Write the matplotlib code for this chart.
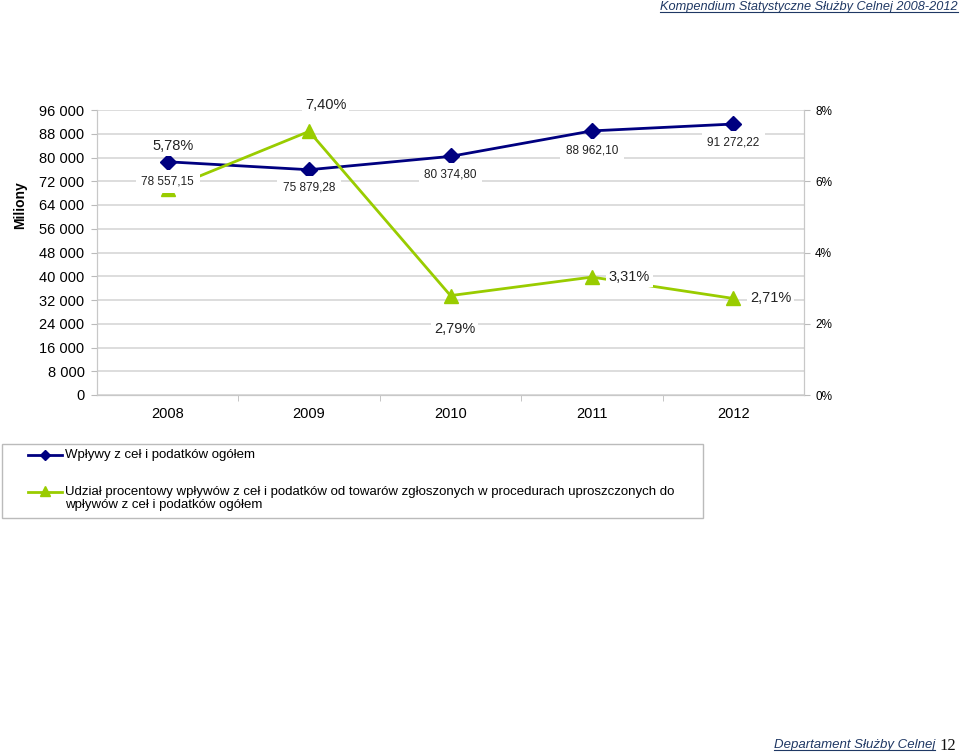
import matplotlib
matplotlib.use("Agg")
import matplotlib.pyplot as plt
from matplotlib.lines import Line2D
from matplotlib.patches import Rectangle

plt.rcParams['font.family'] = ['Liberation Sans', 'DejaVu Sans']

# ---- data ----
years = ["2008", "2009", "2010", "2011", "2012"]
revenue = [78557.15, 75879.28, 80374.80, 88962.10, 91272.22]      # mln
share_pct = [5.78, 7.40, 2.79, 3.31, 2.71]                         # %
left_ticks = [0, 8000, 16000, 24000, 32000, 40000, 48000, 56000, 64000, 72000, 80000, 88000, 96000]
right_ticks = [0, 2, 4, 6, 8]
series_names = ["Wpływy z ceł i podatków ogółem",
                "Udział procentowy wpływów z ceł i podatków od towarów zgłoszonych w procedurach uproszczonych do\nwpływów z ceł i podatków ogółem"]

# label offsets in points (style)
rev_offsets = [(0, -14), (0, -13), (0, -13), (0, -14), (0, -13)]
pct_offsets = [(4, 31), (12, 19), (3, -24), (27, 0), (27, 0)]

BLUE = "#000080"
GREEN = "#99CC00"
GRID = "#D3D3D3"
W, H = 960, 753


def fmt_pl(v):
    s = f"{v:,.2f}"
    return s.replace(",", " ").replace(".", ",")


def fmt_int(v):
    return f"{v:,.0f}".replace(",", " ")


def fx(px):
    return px / W


def fy(py):
    return 1 - py / H


fig = plt.figure(figsize=(9.6, 7.53), dpi=100)
ax = fig.add_axes([fx(97), fy(395), (804 - 97) / W, (395 - 110) / H])
ax2 = ax.twinx()

x = list(range(len(years)))

ax.set_xlim(-0.5, len(years) - 0.5)
ax.set_ylim(0, 96000)
ax2.set_ylim(0, 8)

ax.set_yticks(left_ticks)
ax.set_yticklabels([fmt_int(v) for v in left_ticks], fontsize=10.5)
ax2.set_yticks(right_ticks)
ax2.set_yticklabels([f"{v}%" for v in right_ticks], fontsize=8.5)

ax.set_xticks(x)
ax.set_xticklabels(years, fontsize=10.5)
ax.set_xticks([i + 0.5 for i in x[:-1]], minor=True)
ax.tick_params(axis='x', which='major', length=0, pad=9)
ax.tick_params(axis='x', which='minor', length=4, color="#BBBBBB", direction='out')
ax.tick_params(axis='y', length=4, color="#BBBBBB", pad=5)
ax2.tick_params(axis='y', length=4, color="#BBBBBB", pad=4)

ax.grid(axis='y', color=GRID, linewidth=1.1)
ax.set_axisbelow(True)
for a in (ax, ax2):
    a.spines['top'].set_visible(False)
    for s in ('left', 'right', 'bottom'):
        a.spines[s].set_color("#C8C8C8")

ax.plot(x, revenue, color=BLUE, lw=2, marker='D', markersize=8, zorder=3)
ax2.plot(x, share_pct, color=GREEN, lw=2, marker='^', markersize=10, zorder=3)

for i, v in enumerate(revenue):
    ax2.annotate(fmt_pl(v), xy=(x[i], v), xycoords=ax.transData,
                 xytext=rev_offsets[i], textcoords='offset points',
                 ha='center', va='center', fontsize=8.5, color="#222222",
                 bbox=dict(facecolor='white', edgecolor='none', pad=4),
                 zorder=10, annotation_clip=False)
for i, v in enumerate(share_pct):
    ax2.annotate(f"{v:.2f}%".replace(".", ","), xy=(x[i], v),
                 xytext=pct_offsets[i], textcoords='offset points',
                 ha='center', va='center', fontsize=10.5, color="#222222",
                 bbox=dict(facecolor='white', edgecolor='none', pad=2),
                 zorder=10, annotation_clip=False)

fig.text(fx(20), fy(205), "Miliony", rotation=90, ha='center', va='center',
         fontsize=10, fontweight='bold')

# ---- legend (drawn by hand) ----
fig.add_artist(Rectangle((fx(2), fy(518)), (703 - 2) / W, (518 - 444) / H,
                         transform=fig.transFigure, facecolor='white',
                         edgecolor="#BBBBBB", lw=1))
fig.add_artist(Line2D([fx(28), fx(62)], [fy(455), fy(455)], color=BLUE, lw=2,
                      transform=fig.transFigure))
fig.add_artist(Line2D([fx(45)], [fy(455)], color=BLUE, marker='D', markersize=5,
                      transform=fig.transFigure))
fig.add_artist(Line2D([fx(28), fx(62)], [fy(492), fy(492)], color=GREEN, lw=2,
                      transform=fig.transFigure))
fig.add_artist(Line2D([fx(45)], [fy(491)], color=GREEN, marker='^', markersize=7,
                      transform=fig.transFigure))
fig.text(fx(65), fy(455), series_names[0], ha='left', va='center', fontsize=9.5)
fig.text(fx(65), fy(486), series_names[1], ha='left', va='top', fontsize=9.5,
         linespacing=1.1)

# ---- header / footer ----
hdr = fig.text(fx(958), fy(7), "Kompendium Statystyczne Służby Celnej 2008-2012",
               ha='right', va='center', fontsize=9.2, style='italic', color="#1F3864")
ftr = fig.text(fx(935), fy(745), "Departament Służby Celnej",
               ha='right', va='center', fontsize=9.5, style='italic', color="#1F3864")
fig.text(fx(956), fy(746), "12", ha='right', va='center', fontsize=12,
         family='Liberation Serif', color="#111111")

renderer = fig.canvas.get_renderer()
for t in (hdr, ftr):
    e = t.get_window_extent(renderer=renderer)
    yline = (e.y0 + 1) / fig.bbox.height
    fig.add_artist(Line2D([e.x0 / fig.bbox.width, e.x1 / fig.bbox.width], [yline, yline],
                          color=t.get_color(), lw=0.8, transform=fig.transFigure))

fig.savefig("out.png", dpi=100)
